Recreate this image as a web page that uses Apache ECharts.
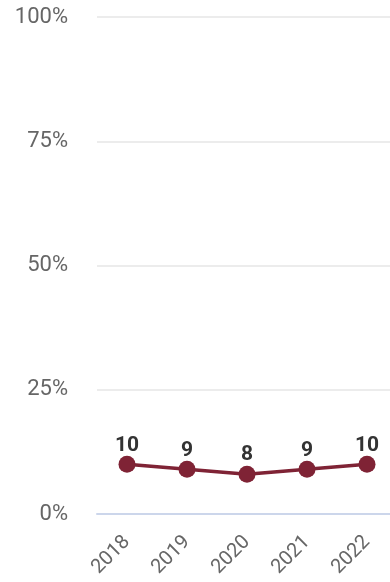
<!DOCTYPE html>
<html>
<head>
<meta charset="utf-8">
<script src="https://cdn.jsdelivr.net/npm/echarts@6/dist/echarts.min.js"></script>
<style>html,body{margin:0;padding:0;background:#fff}#c{width:390px;height:582px}</style>
</head>
<body>
<div id="c"></div>
<script>
var years = ['2018', '2019', '2020', '2021', '2022'];
var values = [10, 9, 8, 9, 10];
var yTicks = [0, 25, 50, 75, 100];

var chart = echarts.init(document.getElementById('c'), null, {renderer: 'canvas'});
chart.setOption({
  animation: false,
  grid: {left: 97, width: 300, top: 17, bottom: 68, containLabel: false, outerBoundsMode: 'none'},
  xAxis: {
    type: 'category',
    data: years,
    boundaryGap: true,
    axisLine: {show: true, lineStyle: {color: '#ccd6eb', width: 2}},
    axisTick: {show: false},
    axisLabel: {rotate: 45, color: '#666666', fontSize: 20, fontFamily: 'Roboto', margin: 25}
  },
  yAxis: {
    type: 'value',
    min: 0, max: 100, interval: 25,
    axisLine: {show: false},
    axisTick: {show: false},
    splitLine: {lineStyle: {color: '#e6e6e6', width: 1.5}},
    axisLabel: {color: '#666666', fontSize: 22, fontFamily: 'Roboto', margin: 29,
      formatter: function (v) { return yTicks.indexOf(v) >= 0 ? v + '%' : ''; }}
  },
  series: [{
    type: 'line',
    data: values,
    symbol: 'circle',
    symbolSize: 17,
    itemStyle: {color: '#7f2335'},
    lineStyle: {color: '#7f2335', width: 3.5},
    label: {show: true, position: 'top', distance: 0, color: '#333333', fontSize: 21, fontWeight: 'bold', fontFamily: 'Roboto'}
  }]
});
</script>
</body>
</html>
